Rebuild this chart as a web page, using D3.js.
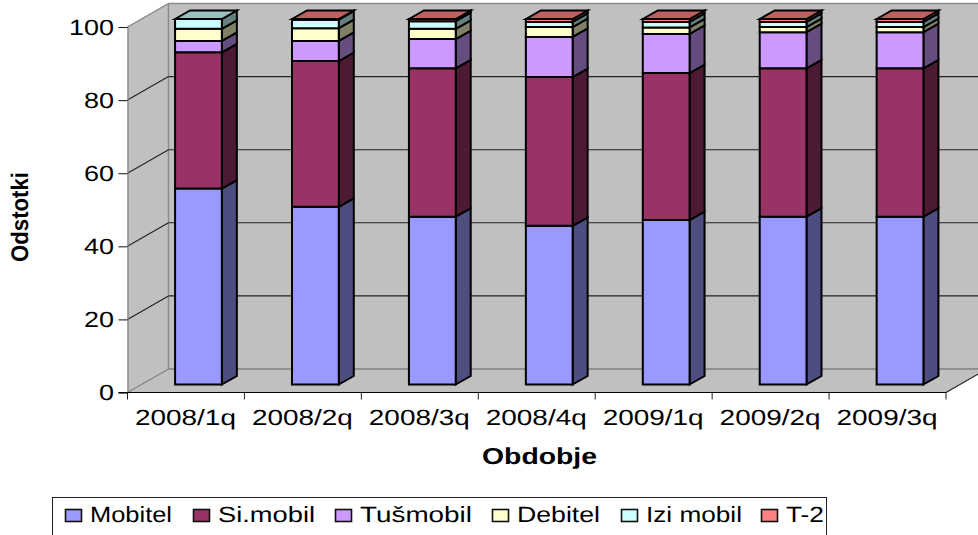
<!DOCTYPE html>
<html><head><meta charset="utf-8">
<script src="https://cdn.jsdelivr.net/npm/d3@7"></script>
<style>html,body{margin:0;padding:0;background:#fff;overflow:hidden}svg{display:block}text{font-family:"Liberation Sans",Arial,sans-serif;fill:#000;text-rendering:geometricPrecision}</style>
</head><body><svg id="c" width="978" height="535"></svg>
<script>
const categories = ["2008/1q","2008/2q","2008/3q","2008/4q","2009/1q","2009/2q","2009/3q"];
const seriesNames = ["Mobitel","Si.mobil","Tušmobil","Debitel","Izi mobil","T-2"];
const seriesColors = ["#9999FF","#993366","#CC99FF","#FFFFCC","#CCFFFF","#FF8080"];
const mobitel = [53.6,48.6,45.9,43.4,45.0,45.9,45.9];
const simobil = [37.3,39.9,40.6,40.7,40.2,40.6,40.6];
const tusmobil = [3.1,5.5,8.0,11.0,10.7,9.9,9.9];
const debitel = [3.3,3.5,2.8,2.7,1.8,1.4,1.4];
const izimobil = [2.7,2.3,2.1,1.4,1.5,1.4,1.4];
const t2 = [0,0.2,0.6,0.8,0.8,0.8,0.8];
const seriesValues = [mobitel,simobil,tusmobil,debitel,izimobil,t2];
const yTicks = [0,20,40,60,80,100];

const svg = d3.select("#c");
const y = d3.scaleLinear().domain([0,100]).range([392.5,27]);
const x = d3.scaleBand().domain(categories).range([127.5,946]).paddingInner(0.6).paddingOuter(0.3);
const xOuter = d3.scaleBand().domain(categories).range([127.5,946]);
const wall = {dx:41,dy:-23.5}, bar = {ox:12.5,oy:-8,dx:15,dy:-8.5};
const L = xOuter.range()[0], R = xOuter.range()[1];
const poly = (pts,fill,stroke,sw)=>svg.append("polygon").attr("points",pts.map(p=>p.join(",")).join(" ")).attr("fill",fill).attr("stroke",stroke||"none").attr("stroke-width",sw||0).attr("stroke-linejoin","miter");
const line = (a,b,c,w)=>svg.append("line").attr("x1",a[0]).attr("y1",a[1]).attr("x2",b[0]).attr("y2",b[1]).attr("stroke",c).attr("stroke-width",w);
const text = (s,xp,yp,len,size,weight,anchor)=>svg.append("text").attr("x",xp).attr("y",yp).attr("font-size",size).attr("font-weight",weight||"normal").attr("text-anchor",anchor||"start").attr("textLength",len).attr("lengthAdjust","spacingAndGlyphs").text(s);

// walls
const y0=y(0), y1=y(100);
poly([[L,y1],[L+wall.dx,y1+wall.dy],[L+wall.dx,y0+wall.dy],[L,y0]],"#C0C0C0");
poly([[L+wall.dx,y1+wall.dy],[R+wall.dx,y1+wall.dy],[R+wall.dx,y0+wall.dy],[L+wall.dx,y0+wall.dy]],"#C0C0C0");
poly([[L,y0],[L+wall.dx,y0+wall.dy],[R+wall.dx,y0+wall.dy],[R,y0]],"#C0C0C0");
line([L+wall.dx,y1+wall.dy],[R+wall.dx,y1+wall.dy],"#8c8c8c",1.5);
line([L+wall.dx,y1+wall.dy],[L+wall.dx,y0+wall.dy],"#8c8c8c",1.5);
line([L,y1],[L+wall.dx,y1+wall.dy],"#808080",1.2);
line([L+wall.dx,y0+wall.dy],[R+wall.dx,y0+wall.dy],"#808080",1.5);
line([L,y0],[L+wall.dx,y0+wall.dy],"#808080",1.2);
line([R,y0],[R+wall.dx,y0+wall.dy],"#222",1.2);
yTicks.slice(1,-1).forEach(t=>{
  line([L,y(t)],[L+wall.dx,y(t)+wall.dy],"#222",1.1);
  line([L+wall.dx,y(t)+wall.dy],[R+wall.dx,y(t)+wall.dy],"#222",1.1);
});

// bars
const shade=(c,k)=>{const r=d3.rgb(c);return d3.rgb(r.r*k,r.g*k,r.b*k).formatHex();};
categories.forEach((cat,i)=>{
  let cum=0;
  const x0=x(cat)+bar.ox, x1=x0+x.bandwidth();
  const last=d3.max(seriesValues.map((s,k)=>s[i]>0?k:-1));
  seriesValues.forEach((s,k)=>{
    const v=s[i]; if(v<=0) return;
    const yb=y(cum)+bar.oy, yt=y(cum+v)+bar.oy; cum+=v;
    poly([[x1,yb],[x1+bar.dx,yb+bar.dy],[x1+bar.dx,yt+bar.dy],[x1,yt]],shade(seriesColors[k],0.5),"#000",2);
    if(k===last) poly([[x0,yt],[x0+bar.dx,yt+bar.dy],[x1+bar.dx,yt+bar.dy],[x1,yt]],shade(seriesColors[k],0.75),"#000",2);
    poly([[x0,yb],[x1,yb],[x1,yt],[x0,yt]],seriesColors[k],"#000",2);
  });
});

// axes
const yAxis=d3.axisLeft(y).tickValues(yTicks).tickSize(9).tickFormat("");
const gy=svg.append("g").attr("transform",`translate(${L},0)`).call(yAxis);
const gx=svg.append("g").attr("transform",`translate(0,${y0})`);
gx.append("line").attr("x1",L-9).attr("x2",R).attr("stroke","#000").attr("stroke-width",1.2);
d3.range(categories.length+1).forEach(i=>{const tx=L+i*xOuter.step();gx.append("line").attr("x1",tx).attr("x2",tx).attr("y2",7).attr("stroke","#222");});
gy.selectAll("line").attr("stroke","#222").attr("stroke-width",1.1);
gy.select("path").attr("stroke","#808080").attr("stroke-width",1.2);
yTicks.forEach(t=>{const w=String(t).length*15;text(String(t),114-w,y(t)+7.5,w,22);});
categories.forEach(c=>{text(c,xOuter(c)+xOuter.step()/2-51,425,101,22);});
text("Obdobje",482,464,115,23,"bold");
svg.append("text").attr("transform","translate(27.5,262) rotate(-90)").attr("font-size",24).attr("font-weight","bold").attr("textLength",90).attr("lengthAdjust","spacingAndGlyphs").text("Odstotki");

// legend
svg.append("rect").attr("x",52.5).attr("y",497.5).attr("width",774).attr("height",50).attr("fill","#fff").attr("stroke","#222").attr("stroke-width",1);
const legX=[90,218,360,517,646,786], legW=[82,97,112,83,96,38], swX=[65.5,193.5,335.5,492.5,621.5,761.5];
seriesNames.forEach((n,i)=>{
  svg.append("rect").attr("x",swX[i]).attr("y",509.5).attr("width",16).attr("height",12).attr("fill",seriesColors[i]).attr("stroke","#111").attr("stroke-width",1.6);
  text(n,legX[i],522,legW[i],22);
});
</script></body></html>
